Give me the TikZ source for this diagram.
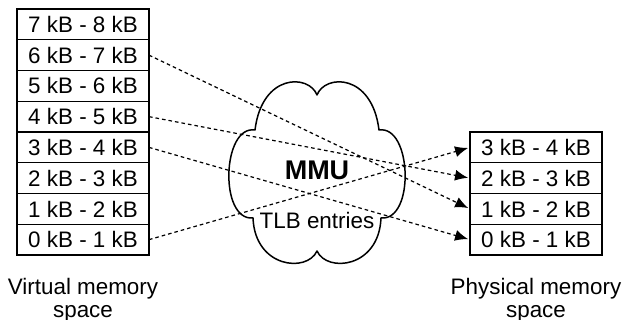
\documentclass[tikz,border=0pt]{standalone}
\usepackage{fontspec}
\setmainfont{Liberation Sans}
\usetikzlibrary{arrows.meta, positioning}

\begin{document}
\begin{tikzpicture}[
      x=0.5pt, y=-0.5pt,
      node distance=0pt,
      every node/.style={font=\fontsize{11.2}{11.6}\selectfont},
      membox/.style={rectangle, draw, line width=0.6pt, outer sep=0pt, inner sep=0pt,
        minimum width=66pt, minimum height=15.375pt, text centered},
      cloudline/.style={line width=0.75pt, line join=round},
      link/.style={dashed, dash pattern=on 1.8pt off 1.5pt, line width=0.6pt,
        -{Latex[length=6.5pt, width=5.5pt]}, shorten >=1pt}
    ]
      \useasboundingbox (0,0) rectangle (622,320);

      % Virtual memory
      \node[membox] (v7) at (83,24.4) {7 kB - 8 kB};
      \node[membox, below=of v7] (v6) {6 kB - 7 kB};
      \node[membox, below=of v6] (v5) {5 kB - 6 kB};
      \node[membox, below=of v5] (v4) {4 kB - 5 kB};
      \node[membox, below=of v4] (v3) {3 kB - 4 kB};
      \node[membox, below=of v3] (v2) {2 kB - 3 kB};
      \node[membox, below=of v2] (v1) {1 kB - 2 kB};
      \node[membox, below=of v1] (v0) {0 kB - 1 kB};

      % Physical memory
      \node[membox] (p3) at (536,147.4) {3 kB - 4 kB};
      \node[membox, below=of p3] (p2) {2 kB - 3 kB};
      \node[membox, below=of p2] (p1) {1 kB - 2 kB};
      \node[membox, below=of p1] (p0) {0 kB - 1 kB};

      % MMU cloud
      \draw[cloudline, shift={(317,173)}] (0,-78)
        .. controls (8,-99) and (55,-100) .. (62,-43)
        .. controls (95,-48) and (98,48) .. (64,45)
        .. controls (62,95) and (10,100) .. (0,78)
        .. controls (-10,100) and (-62,95) .. (-64,45)
        .. controls (-98,48) and (-95,-48) .. (-62,-43)
        .. controls (-55,-100) and (-8,-99) .. cycle;
      \node[font=\bfseries\fontsize{13.5}{14}\selectfont] (mmu) at (317,170) {MMU};
      \node (tlb) at (317,220) {TLB entries};

      % Draw arrows
      \draw[link] (v6.east) -- (p1.west);
      \draw[link] (v4.east) -- (p2.west);
      \draw[link] (v3.east) -- (p0.west);
      \draw[link] (v0.east) -- (p3.west);

      % Space labels
      \node[below=11.5pt of v0, align=center, inner sep=0pt] (vspace) {Virtual memory\\space};
      \node[below=11.5pt of p0, align=center, inner sep=0pt] (pspace) {Physical memory\\space};
    \end{tikzpicture}
\end{document}
